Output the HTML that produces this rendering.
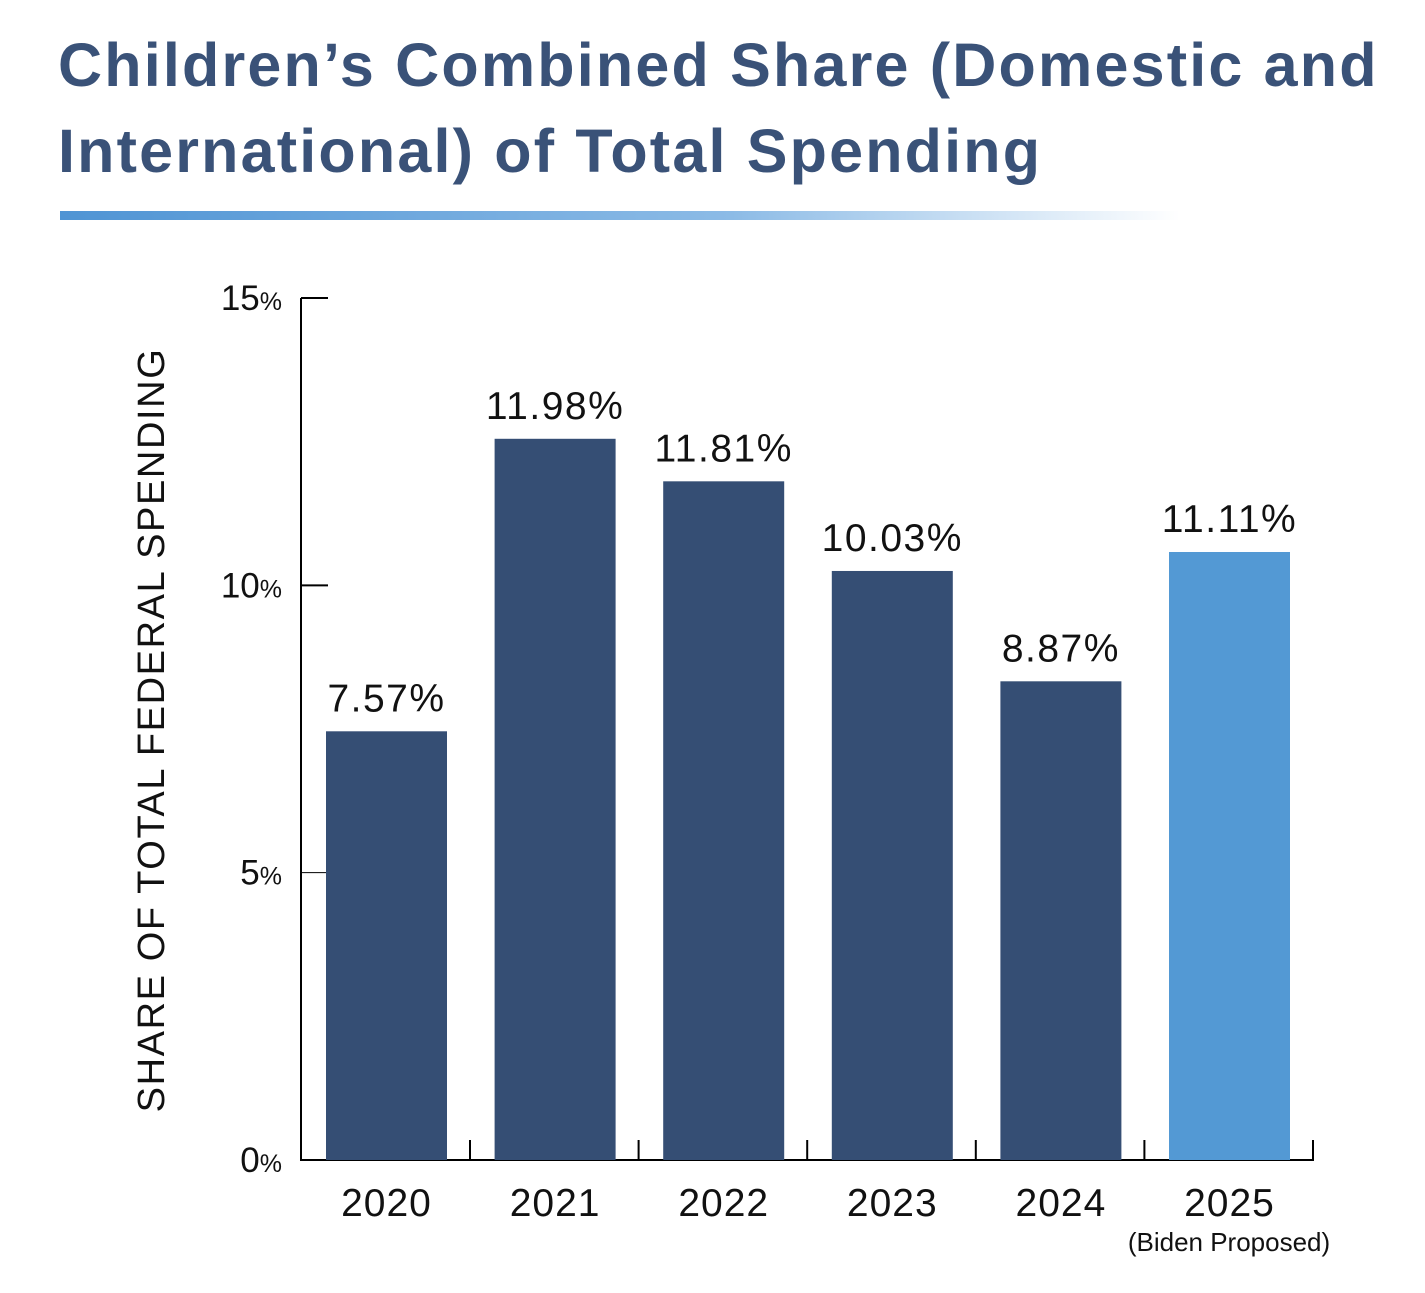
<!DOCTYPE html>
<html><head><meta charset="utf-8"><style>
body{margin:0;width:1425px;height:1293px;background:#fff;overflow:hidden;font-family:"Liberation Sans",sans-serif}
.title{position:absolute;left:58px;top:22px;font-size:61px;font-weight:bold;color:#3a5278;line-height:86px;letter-spacing:2.2px}
</style></head><body>
<div class="title">Children’s Combined Share (Domestic and<br>International) of Total Spending</div>
<div style="position:absolute;left:60px;top:211px;width:1120px;height:9px;background:linear-gradient(90deg,#4f94d4,#8cbbe6 60%,#fff)"></div>
<svg id="chart" width="1425" height="1293" style="position:absolute;left:0;top:0"></svg>
<script>
const categories=["2020","2021","2022","2023","2024","2025"];
const barValues=[7.46,12.55,11.81,10.25,8.33,10.58];
const labels=["7.57%","11.98%","11.81%","10.03%","8.87%","11.11%"];
const colors=["#354e74","#354e74","#354e74","#354e74","#354e74","#5399d4"];
const yTicks=[0,5,10,15];
const svg=document.getElementById('chart');
const NS="http://www.w3.org/2000/svg";
const y0=1160,yTop=298,yMax=15;
const y=v=>y0-(y0-yTop)*v/yMax;
const x=i=>326+i*168.6;
const bw=121;
function mk(t,a,txt){const e=document.createElementNS(NS,t);for(const k in a)e.setAttribute(k,a[k]);if(txt!=null)e.textContent=txt;svg.appendChild(e);return e;}
let e=mk('line',{x1:301,y1:298,x2:301,y2:1160,stroke:'#000','stroke-width':2});


e=mk('line',{x1:300,y1:1160,x2:1314,y2:1160,stroke:'#000','stroke-width':2});


yTicks.forEach(t=>{
  if(t>0){e=mk('line',{x1:301,y1:y(t),x2:328,y2:y(t),stroke:'#000','stroke-width':t==15||t==10?2:1});
  
  }
  e=mk('text',{x:282,y:y(t)+12,'text-anchor':'end','font-size':35,fill:'#111'});
  e.innerHTML=t+'<tspan font-size="25">%</tspan>';
  
  
});
categories.forEach((c,i)=>{
  const bx=x(i);
  e=mk('rect',{x:bx,y:y(barValues[i]),width:bw,height:y0-y(barValues[i]),fill:colors[i]});
  
  
  e=mk('text',{x:bx+bw/2,y:y(barValues[i])-20,'text-anchor':'middle','font-size':39,'letter-spacing':1.5,fill:'#111'},labels[i]);
  
  
  e=mk('text',{x:bx+bw/2,y:1216,'text-anchor':'middle','font-size':39,'letter-spacing':1,fill:'#111'},c);
  
  
  e=mk('line',{x1:bx+bw+23,y1:1140,x2:bx+bw+23,y2:1160,stroke:'#000','stroke-width':2});
  
  
});
e=mk('text',{x:1229,y:1251,'text-anchor':'middle','font-size':26,fill:'#111'},'(Biden Proposed)');


e=mk('text',{x:0,y:0,transform:'translate(164,730) rotate(-90)','text-anchor':'middle','font-size':38,'letter-spacing':1.6,fill:'#111'},'SHARE OF TOTAL  FEDERAL SPENDING');


</script>
</body></html>
